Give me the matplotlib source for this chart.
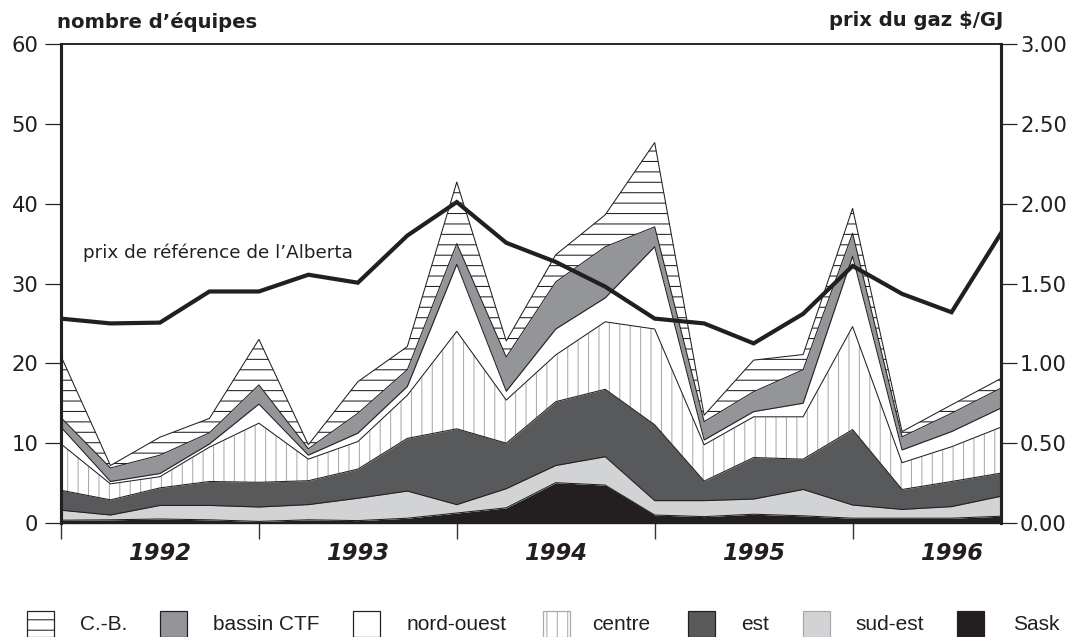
import numpy as np
import matplotlib
matplotlib.use('Agg')
import matplotlib.pyplot as plt
from matplotlib.patches import Rectangle
from matplotlib.ticker import FormatStrFormatter

# ---- data (quarterly, 1992 Q1 .. 1996 Q4) ----
quarters = list(range(20))
years = ["1992", "1993", "1994", "1995", "1996"]

sask = [0.35, 0.4, 0.5, 0.4, 0.2, 0.4, 0.3, 0.6, 1.25, 1.9,
        5.05, 4.75, 1.0, 0.8, 1.1, 0.9, 0.6, 0.6, 0.6, 0.85]
sud_est = [1.25, 0.6, 1.7, 1.8, 1.8, 1.9, 2.8, 3.4, 1.05, 2.4,
           2.15, 3.55, 1.8, 2.0, 1.9, 3.3, 1.65, 1.1, 1.45, 2.5]
est = [2.5, 1.9, 2.2, 3.0, 3.1, 3.0, 3.65, 6.6, 9.5, 5.7,
       8.0, 8.45, 9.5, 2.45, 5.2, 3.8, 9.45, 2.5, 3.15, 2.9]
centre = [5.8, 2.0, 1.4, 4.3, 7.4, 2.7, 3.45, 5.4, 12.2, 5.4,
          5.85, 8.45, 12.0, 4.55, 5.1, 5.3, 12.9, 3.35, 4.35, 5.75]
nord_ouest = [2.1, 0.3, 0.4, 0.4, 2.4, 0.5, 1.05, 1.1, 8.4, 1.1,
              3.25, 3.0, 10.3, 0.6, 0.65, 1.7, 8.8, 1.6, 1.9, 2.4]
bassin_ctf = [1.2, 1.7, 2.3, 1.4, 2.4, 0.8, 2.5, 2.1, 2.6, 4.3,
              5.9, 6.4, 2.5, 2.3, 2.5, 4.2, 2.9, 1.65, 2.3, 2.5]
cb = [7.7, 0.3, 2.25, 1.8, 5.7, 0.5, 3.95, 2.9, 7.7, 2.0,
      3.4, 4.0, 10.55, 0.8, 3.95, 1.9, 3.1, 0.65, 1.05, 1.2]
price = [1.28, 1.25, 1.255, 1.45, 1.45, 1.555, 1.505, 1.80, 2.01, 1.755,
         1.635, 1.48, 1.28, 1.25, 1.125, 1.31, 1.61, 1.435, 1.32, 1.815]

legend_labels = ["C.-B.", "bassin CTF", "nord-ouest", "centre", "est", "sud-est", "Sask"]

plt.rcParams['font.family'] = ['DejaVu Sans']
plt.rcParams['hatch.linewidth'] = 0.6

INK = '#231f20'
W, H = 1075, 637
fig = plt.figure(figsize=(W / 125, H / 125), dpi=125)
ax = fig.add_axes([61 / W, 1 - 523 / H, 940 / W, 479 / H])

# (values, facecolor, hatch, hatchcolor)
layers = [
    (sask, INK, None, INK),
    (sud_est, '#d1d3d4', None, '#d1d3d4'),
    (est, '#58595b', None, '#58595b'),
    (centre, 'white', '||', '#a7a9ac'),
    (nord_ouest, 'white', None, 'white'),
    (bassin_ctf, '#939598', None, '#939598'),
    (cb, 'white', '--', INK),
]

x = np.array(quarters)
bottom = np.zeros(len(x))
for vals, face, hatch, hcol in layers:
    top = bottom + np.array(vals)
    ax.fill_between(x, bottom, top, facecolor=face, edgecolor=hcol,
                    hatch=hatch, linewidth=0, zorder=1)
    ax.plot(x, top, color=INK, lw=0.6, zorder=2)
    bottom = top

ax.set_xlim(0, 19)
ax.set_ylim(0, 60)
ax.set_yticks(range(0, 61, 10))
ax.set_xticks([0, 4, 8, 12, 16])
ax.set_xticklabels([])
ax.tick_params(axis='y', direction='out', length=9, width=0.7, pad=4,
               labelsize=12.2, colors=INK)
ax.tick_params(axis='x', direction='out', length=9, width=0.8, color='#333333')
ax.spines['left'].set_linewidth(1.8)
ax.spines['top'].set_linewidth(1.1)
ax.spines['right'].set_visible(False)
ax.spines['bottom'].set_linewidth(0.8)
for sp in ax.spines.values():
    sp.set_color(INK)

for i, yr in enumerate(years):
    ax.text(2 + 4 * i, -0.063, yr, transform=ax.get_xaxis_transform(),
            ha='center', va='center', fontsize=13, fontweight='bold',
            fontstyle='italic', color=INK)

ax.text(0.45, 33.8, "prix de référence de l’Alberta", fontsize=10.6,
        va='center', ha='left', color=INK)

ax2 = ax.twinx()
ax2.plot(x, price, color=INK, lw=2.4, solid_joinstyle='miter', zorder=3)
ax2.set_ylim(0, 3)
ax2.set_yticks(np.arange(0, 3.01, 0.5))
ax2.yaxis.set_major_formatter(FormatStrFormatter('%.2f'))
ax2.tick_params(axis='y', direction='out', length=9, width=0.7, pad=2,
                labelsize=12.2, colors=INK)
for k in ['left', 'top', 'bottom']:
    ax2.spines[k].set_visible(False)
ax2.spines['right'].set_linewidth(1.8)
ax2.spines['right'].set_color(INK)

fig.text(57 / W, 1 - 22 / H, "nombre d’équipes", ha='left', va='center',
         fontsize=11.3, fontweight='bold', color=INK)
fig.text(1003 / W, 1 - 21 / H, "prix du gaz $/GJ", ha='right', va='center',
         fontsize=11.3, fontweight='bold', color=INK)

# ---- legend (manual, bottom row) ----
leg_styles = [
    ('white', '--', INK),
    ('#939598', None, INK),
    ('white', None, INK),
    ('white', '||', '#a7a9ac'),
    ('#58595b', None, INK),
    ('#d1d3d4', None, '#a7a9ac'),
    (INK, None, INK),
]
patch_x = [27, 160, 353, 543, 688, 803, 957]
text_x = [80, 213, 407, 592, 741, 855, 1013]
for (face, hatch, ec), px, tx, lab in zip(leg_styles, patch_x, text_x, legend_labels):
    r = Rectangle((px / W, 0), 27 / W, 26 / H, transform=fig.transFigure,
                  facecolor=face, edgecolor=ec, hatch=hatch, linewidth=0.7)
    fig.add_artist(r)
    fig.text(tx / W, 1 - 625 / H, lab, ha='left', va='center', fontsize=12,
             family=['Liberation Sans', 'DejaVu Sans'], color=INK)

fig.savefig('out.png', dpi=125)
